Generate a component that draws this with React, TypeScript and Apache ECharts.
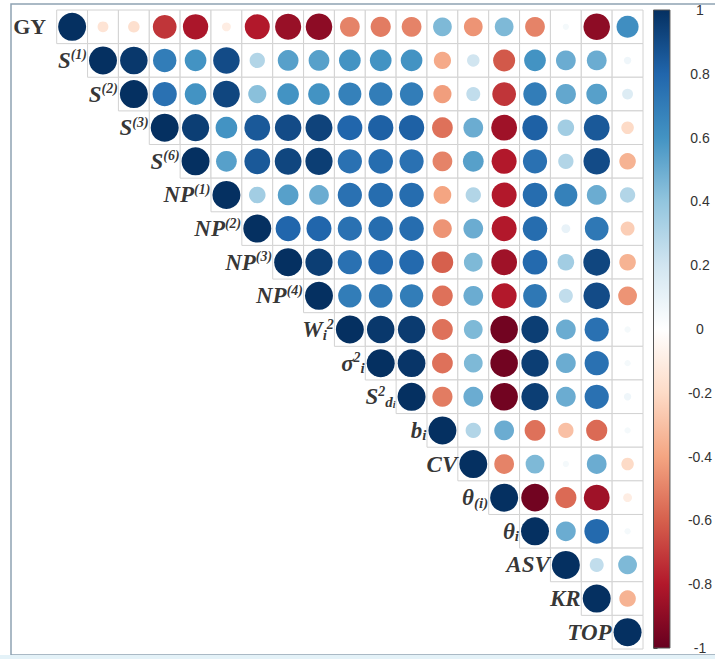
import React, { useEffect, useRef } from "react";
import * as echarts from "echarts";

const variables = ["GY","S1","S2","S3","S6","NP1","NP2","NP3","NP4","Wi2","sigma2i","S2di","bi","CV","theta(i)","thetai","ASV","KR","TOP"];

// rich-text labels (text content only)
const labelTexts = [
  "{g|GY}",
  "{b|S}{sup|(1)}",
  "{b|S}{sup|(2)}",
  "{b|S}{sup|(3)}",
  "{b|S}{sup|(6)}",
  "{b|NP}{sup|(1)}",
  "{b|NP}{sup|(2)}",
  "{b|NP}{sup|(3)}",
  "{b|NP}{sup|(4)}",
  "{b|W}{sub|i}{sup|2}",
  "{b|σ}{sup|2}{sub|i}",
  "{b|S}{sup|2}{sub|d}{subi|i}",
  "{b|b}{sub|i}",
  "{b|CV}",
  "{b|θ}{sub|(i)}",
  "{b|θ}{sub|i}",
  "{b|ASV}",
  "{b|KR}",
  "{b|TOP}",
];

// upper triangle rows, each starting at the diagonal
const corrUpper: number[][] = [
  [1, -0.15, -0.17, -0.72, -0.82, -0.1, -0.8, -0.87, -0.9, -0.5, -0.52, -0.5, 0.45, -0.45, 0.45, -0.5, 0.05, -0.9, 0.62],
  [1, 0.97, 0.7, 0.6, 0.9, 0.3, 0.55, 0.55, 0.6, 0.6, 0.6, -0.38, 0.2, -0.62, 0.6, 0.5, 0.5, 0.07],
  [1, 0.75, 0.6, 0.92, 0.42, 0.6, 0.6, 0.68, 0.7, 0.7, -0.42, 0.25, -0.72, 0.7, 0.52, 0.55, 0.15],
  [1, 0.95, 0.6, 0.85, 0.9, 0.93, 0.8, 0.82, 0.82, -0.55, 0.5, -0.85, 0.82, 0.35, 0.85, -0.2],
  [1, 0.55, 0.85, 0.92, 0.95, 0.75, 0.77, 0.75, -0.5, 0.55, -0.8, 0.75, 0.3, 0.9, -0.35],
  [1, 0.35, 0.55, 0.5, 0.75, 0.77, 0.77, -0.4, 0.3, -0.8, 0.77, 0.68, 0.5, 0.3],
  [1, 0.8, 0.8, 0.75, 0.77, 0.77, -0.45, 0.5, -0.8, 0.77, 0.1, 0.72, -0.25],
  [1, 0.95, 0.75, 0.78, 0.78, -0.6, 0.45, -0.85, 0.78, 0.35, 0.92, -0.35],
  [1, 0.7, 0.72, 0.7, -0.55, 0.5, -0.8, 0.72, 0.25, 0.9, -0.45],
  [1, 0.97, 0.96, -0.55, 0.45, -0.97, 0.95, 0.5, 0.75, 0.05],
  [1, 0.98, -0.55, 0.45, -0.97, 0.95, 0.5, 0.75, 0.05],
  [1, -0.52, 0.5, -0.97, 0.95, 0.5, 0.75, 0.07],
  [1, 0.3, 0.5, -0.55, -0.3, -0.57, 0.05],
  [1, -0.5, 0.45, 0.05, 0.5, -0.2],
  [1, -0.97, -0.57, -0.85, -0.1],
  [1, 0.5, 0.78, 0.05],
  [1, 0.25, 0.45],
  [1, -0.35],
  [1],
];

const colorbarTicks = [-1, -0.8, -0.6, -0.4, -0.2, 0, 0.2, 0.4, 0.6, 0.8, 1];

const palette = ["#67001F", "#B2182B", "#D6604D", "#F4A582", "#FDDBC7", "#FFFFFF", "#D1E5F0", "#92C5DE", "#4393C3", "#2166AC", "#053061"];

export default function App() {
  const ref = useRef<HTMLDivElement>(null);
  useEffect(() => {
    if (!ref.current) return;
    const chart = echarts.init(ref.current, null, { renderer: "svg" });

    const cells: number[][] = [];
    corrUpper.forEach((row, r) => {
      row.forEach((v, k) => cells.push([r + k, r, v]));
    });
    const diag = variables.map((_, i) => ({ value: [i, i, 1], label: { formatter: labelTexts[i], distance: i === 0 ? 12 : 2 } }));

    const serif = "'Liberation Serif', 'Times New Roman', serif";
    const ink = "#000";
    const rich: any = {
      g: { fontFamily: serif, fontSize: 22, fontWeight: "bold", fontStyle: "normal", color: ink, lineHeight: 25 },
      b: { fontFamily: serif, fontSize: 23, fontWeight: "bold", fontStyle: "italic", color: ink, lineHeight: 25 },
      sup: { fontFamily: serif, fontSize: 14, fontWeight: "bold", fontStyle: "italic", color: ink, lineHeight: 15, verticalAlign: "top" },
      sub: { fontFamily: serif, fontSize: 15, fontWeight: "bold", fontStyle: "italic", color: ink, lineHeight: 16, verticalAlign: "bottom" },
      subi: { fontFamily: serif, fontSize: 10, fontWeight: "bold", fontStyle: "italic", color: ink, lineHeight: 10, verticalAlign: "bottom" },
    };

    const n = palette.length - 1;
    const stops = palette.map((_, i) => ({ offset: i / n, color: palette[n - i] }));

    chart.setOption({
      animation: false,
      backgroundColor: "#ffffff",
      graphic: [
        { type: "rect", z: -10, shape: { x: 11, y: 4, width: 720, height: 651 }, style: { fill: "none", stroke: "#8ea2b3", lineWidth: 1.5 } },
        { type: "rect", z: -10, shape: { x: 0, y: 655, width: 715, height: 4 }, style: { fill: "#e4f2f8" } },
      ],
      grid: [
        { left: 56.7, top: 10, width: 586.3, height: 639 },
        { left: 653.5, top: 10, width: 24.5, height: 638 },
      ],
      xAxis: [
        { type: "category", gridIndex: 0, data: variables, show: false },
        { type: "value", gridIndex: 1, min: 0, max: 1, show: false },
      ],
      yAxis: [
        { type: "category", gridIndex: 0, data: variables, inverse: true, show: false },
        {
          type: "value", gridIndex: 1, min: -1, max: 1, interval: 0.2, position: "right",
          axisLine: { show: false },
          axisTick: { show: true, length: 4, lineStyle: { color: "#444" } },
          splitLine: { show: false },
          axisLabel: {
            margin: 30, align: "center", color: "#333", fontSize: 14,
            fontFamily: "'Liberation Sans', Arial, sans-serif",
            customValues: colorbarTicks,
            formatter: (v: number) => String(Math.round(v * 10) / 10),
          },
        },
      ],
      visualMap: {
        show: false, type: "continuous", min: -1, max: 1, dimension: 2, seriesIndex: 1,
        inRange: { color: palette },
      },
      series: [
        {
          type: "custom", xAxisIndex: 0, yAxisIndex: 0, z: 1, silent: true,
          data: cells,
          renderItem: (_p: any, api: any) => {
            const pt = api.coord([api.value(0), api.value(1)]);
            const s = api.size([1, 1]);
            return { type: "rect", shape: { x: pt[0] - s[0] / 2, y: pt[1] - s[1] / 2, width: s[0], height: s[1] }, style: { fill: "#fff", stroke: "#d2d2d2", lineWidth: 1 } };
          },
        },
        {
          type: "scatter", xAxisIndex: 0, yAxisIndex: 0, z: 3, silent: true,
          data: cells,
          symbol: "circle",
          symbolSize: (val: number[]) => 28 * Math.sqrt(Math.abs(val[2])),
          itemStyle: { opacity: 1 },
        },
        {
          type: "scatter", xAxisIndex: 0, yAxisIndex: 0, z: 4, silent: true,
          data: diag,
          symbolSize: 28,
          itemStyle: { color: "rgba(0,0,0,0)" },
          label: { show: true, position: "left", rich },
        },
        {
          type: "custom", xAxisIndex: 1, yAxisIndex: 1, z: 2, silent: true,
          data: [[0, 1]],
          renderItem: (_p: any, api: any) => {
            const tl = api.coord([0, 1]);
            const br = api.coord([1, -1]);
            return {
              type: "rect",
              shape: { x: tl[0], y: tl[1], width: br[0] - tl[0], height: br[1] - tl[1] },
              style: { fill: new echarts.graphic.LinearGradient(0, 0, 0, 1, stops), stroke: "#555", lineWidth: 1 },
            };
          },
        },
      ],
    });
    return () => chart.dispose();
  }, []);
  return <div ref={ref} style={{ position: "absolute", left: 0, top: 0, width: 715, height: 659 }} />;
}
